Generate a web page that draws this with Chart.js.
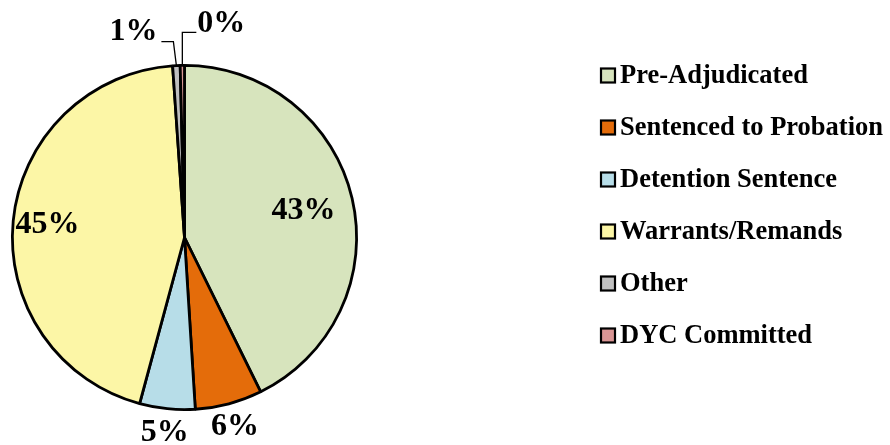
<!DOCTYPE html>
<html>
<head>
<meta charset="utf-8">
<script src="https://cdn.jsdelivr.net/npm/chart.js@4"></script>
<style>
html,body{margin:0;padding:0;background:#fff}
#wrap{width:890px;height:445px;position:relative}
</style>
</head>
<body>
<div id="wrap"><canvas id="c" width="890" height="445"></canvas></div>
<script>
const categories=['Pre-Adjudicated','Sentenced to Probation','Detention Sentence','Warrants/Remands','Other','DYC Committed'];
const shares=[42.7,6.3,5.2,44.7,0.7,0.4];
const pctLabels=['43%','6%','5%','45%','1%','0%'];
const colors=['#d7e4bd','#e46c0a','#b7dde8','#fcf6a6','#bfbfbf','#d99594'];

const FONT='"Liberation Serif","Times New Roman",serif';

// labels: inside, outside, or with a leader line
const labelPlugin={
  id:'pctLabels',
  afterDatasetsDraw(chart){
    const ctx=chart.ctx,arcs=chart.getDatasetMeta(0).data;
    ctx.save();
    ctx.font='bold 32px '+FONT;ctx.fillStyle='#000';ctx.textAlign='center';ctx.textBaseline='middle';
    arcs.forEach((a,i)=>{
      const p=a.getProps(['x','y','startAngle','endAngle','outerRadius']);
      const mid=(p.startAngle+p.endAngle)/2,R=p.outerRadius;
      if(i===0||i===3){
        const f=i===0?0.71:0.8;
        ctx.fillText(pctLabels[i],p.x+Math.cos(mid)*R*f,p.y+Math.sin(mid)*R*f+1);
      }else if(i===1||i===2){
        ctx.fillText(pctLabels[i],p.x+Math.cos(mid)*R*1.14,p.y+Math.sin(mid)*R*1.14);
      }else{
        const ex=p.x+Math.cos(mid)*R,ey=p.y+Math.sin(mid)*R;
        ctx.strokeStyle='#000';ctx.lineWidth=1.3;ctx.beginPath();
        if(i===4){
          ctx.moveTo(ex,ey);ctx.lineTo(ex-3,ey-24);ctx.lineTo(ex-15,ey-24);ctx.stroke();
          ctx.fillText(pctLabels[i],ex-43,ey-34);
        }else{
          ctx.moveTo(ex,ey);ctx.lineTo(ex,ey-33);ctx.lineTo(ex+14,ey-33);ctx.stroke();
          ctx.fillText(pctLabels[i],ex+39,ey-42);
        }
      }
    });
    ctx.restore();
  }
};

const legendPlugin={
  id:'sideLegend',
  afterDraw(chart){
    const ctx=chart.ctx;
    ctx.save();
    ctx.font='bold 26.5px '+FONT;ctx.textBaseline='middle';ctx.textAlign='left';
    categories.forEach((c,i)=>{
      const y=75.5+i*52;
      ctx.fillStyle=colors[i];ctx.fillRect(601,y-7,14,14);
      ctx.strokeStyle='#000';ctx.lineWidth=2.2;ctx.strokeRect(601,y-7,14,14);
      ctx.fillStyle='#000';ctx.fillText(c,620,y+1);
    });
    ctx.restore();
  }
};

new Chart(document.getElementById('c'),{
  type:'pie',
  data:{labels:categories,datasets:[{data:shares,backgroundColor:colors,borderColor:'#000',borderWidth:2.8}]},
  options:{
    responsive:false,animation:false,
    layout:{padding:{left:11,top:64,right:532,bottom:34}},
    plugins:{legend:{display:false},tooltip:{enabled:false}}
  },
  plugins:[labelPlugin,legendPlugin]
});
</script>
</body>
</html>
